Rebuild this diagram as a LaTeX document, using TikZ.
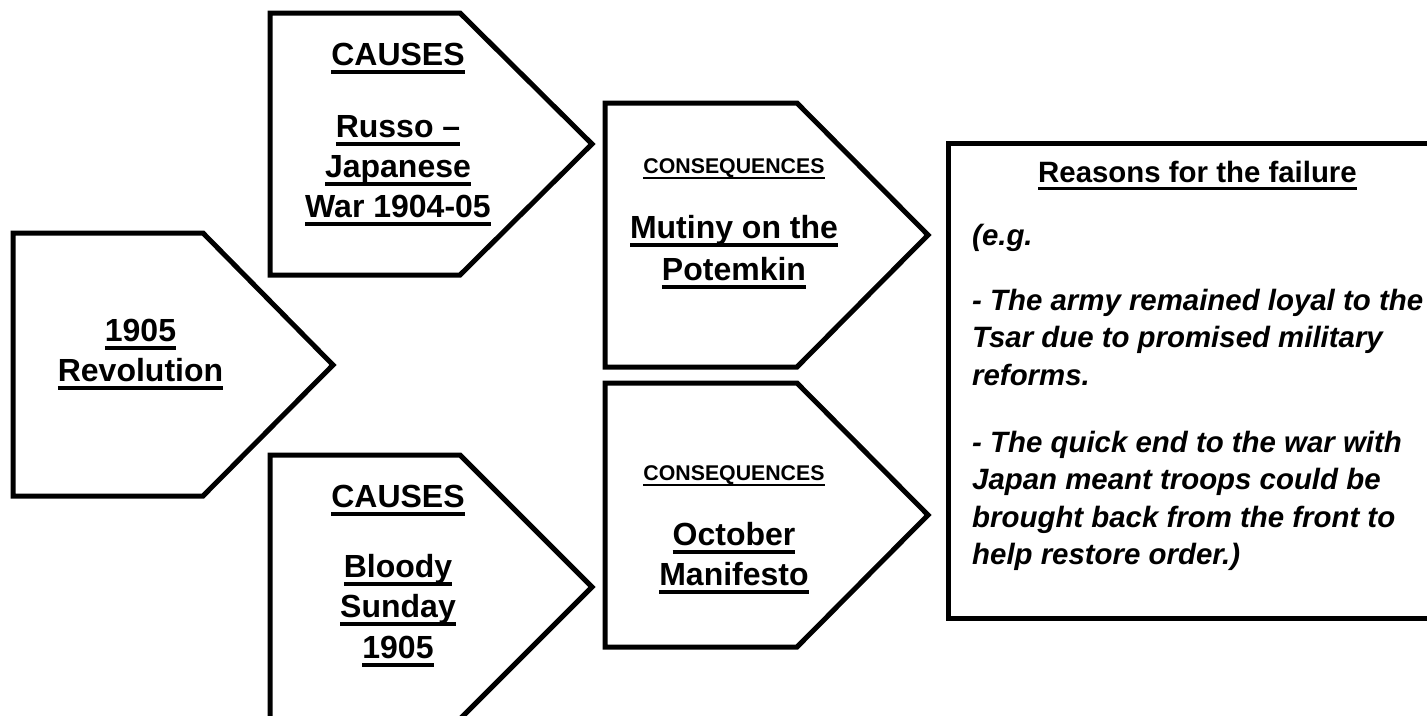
\documentclass[tikz,border=0pt]{standalone}
\usepackage{fontspec}
\setmainfont{Liberation Sans}
\newcommand\myul[1]{\leavevmode\setbox0\hbox{#1}\rlap{\vrule width\wd0 height -0.165em depth 0.275em}\box0}
\tikzset{
  shapeline/.style={draw=black, line width=5pt, line join=miter},
  big/.style={font=\bfseries\fontsize{32}{40}\selectfont, anchor=base, inner sep=0pt},
  small/.style={font=\bfseries\fontsize{21.3}{26}\selectfont, anchor=base, inner sep=0pt},
  headr/.style={font=\bfseries\fontsize{29.4}{37}\selectfont, anchor=base, inner sep=0pt},
  body/.style={font=\bfseries\itshape\fontsize{29.4}{37.5}\selectfont, anchor=base west, inner sep=0pt},
}
\begin{document}
\begin{tikzpicture}[x=1pt,y=-1pt]
\useasboundingbox (0,0) rectangle (1427,715);
\clip (0,0) rectangle (1427,715);
\fill[white] (0,0) rectangle (1427,715);
% shapes
\draw[shapeline] (13,233) -- (203,233) -- (333,365) -- (203,496) -- (13,496) -- cycle;
\draw[shapeline] (270,13) -- (460,13) -- (592,144) -- (460,275) -- (270,275) -- cycle;
\draw[shapeline] (270,455) -- (460,455) -- (592,587) -- (460,719) -- (270,719) -- cycle;
\draw[shapeline] (605,103) -- (797,103) -- (928,235) -- (797,367) -- (605,367) -- cycle;
\draw[shapeline] (605,383) -- (797,383) -- (928,515) -- (797,647) -- (605,647) -- cycle;
\draw[shapeline] (948,143) rectangle (1445,618);
% 1905 Revolution
\node[big] (rev1) at (140.5,341) {\myul{1905}};
\node[big] (rev2) at (140.5,381) {\myul{Revolution}};
% causes top
\node[big] (ca1) at (398,65) {\myul{CAUSES}};
\node[big] (ca2) at (398,137) {\myul{Russo –}};
\node[big] (ca3) at (398,177) {\myul{Japanese}};
\node[big] (ca4) at (398,217) {\myul{War 1904-05}};
% causes bottom
\node[big] (cb1) at (398,507) {\myul{CAUSES}};
\node[big] (cb2) at (398,577) {\myul{Bloody}};
\node[big] (cb3) at (398,617) {\myul{Sunday}};
\node[big] (cb4) at (398,658) {\myul{1905}};
% consequences top
\node[small] (qa1) at (734,173) {\myul{CONSEQUENCES}};
\node[big] (qa2) at (734,238) {\myul{Mutiny on the}};
\node[big] (qa3) at (734,280) {\myul{Potemkin}};
% consequences bottom
\node[small] (qb1) at (734,480) {\myul{CONSEQUENCES}};
\node[big] (qb2) at (734,545) {\myul{October}};
\node[big] (qb3) at (734,585) {\myul{Manifesto}};
% reasons
\node[headr] (r0) at (1197.5,182) {\myul{Reasons for the failure}};
\node[body] (r1) at (972,245) {(e.g.};
\node[body] (r2) at (972,310) {- The army remained loyal to the};
\node[body] (r3) at (972,347.5) {Tsar due to promised military};
\node[body] (r4) at (972,385) {reforms.};
\node[body] (r5) at (972,452) {- The quick end to the war with};
\node[body] (r6) at (972,489.5) {Japan meant troops could be};
\node[body] (r7) at (972,527) {brought back from the front to};
\node[body] (r8) at (972,564.5) {help restore order.)};
\end{tikzpicture}
\end{document}
